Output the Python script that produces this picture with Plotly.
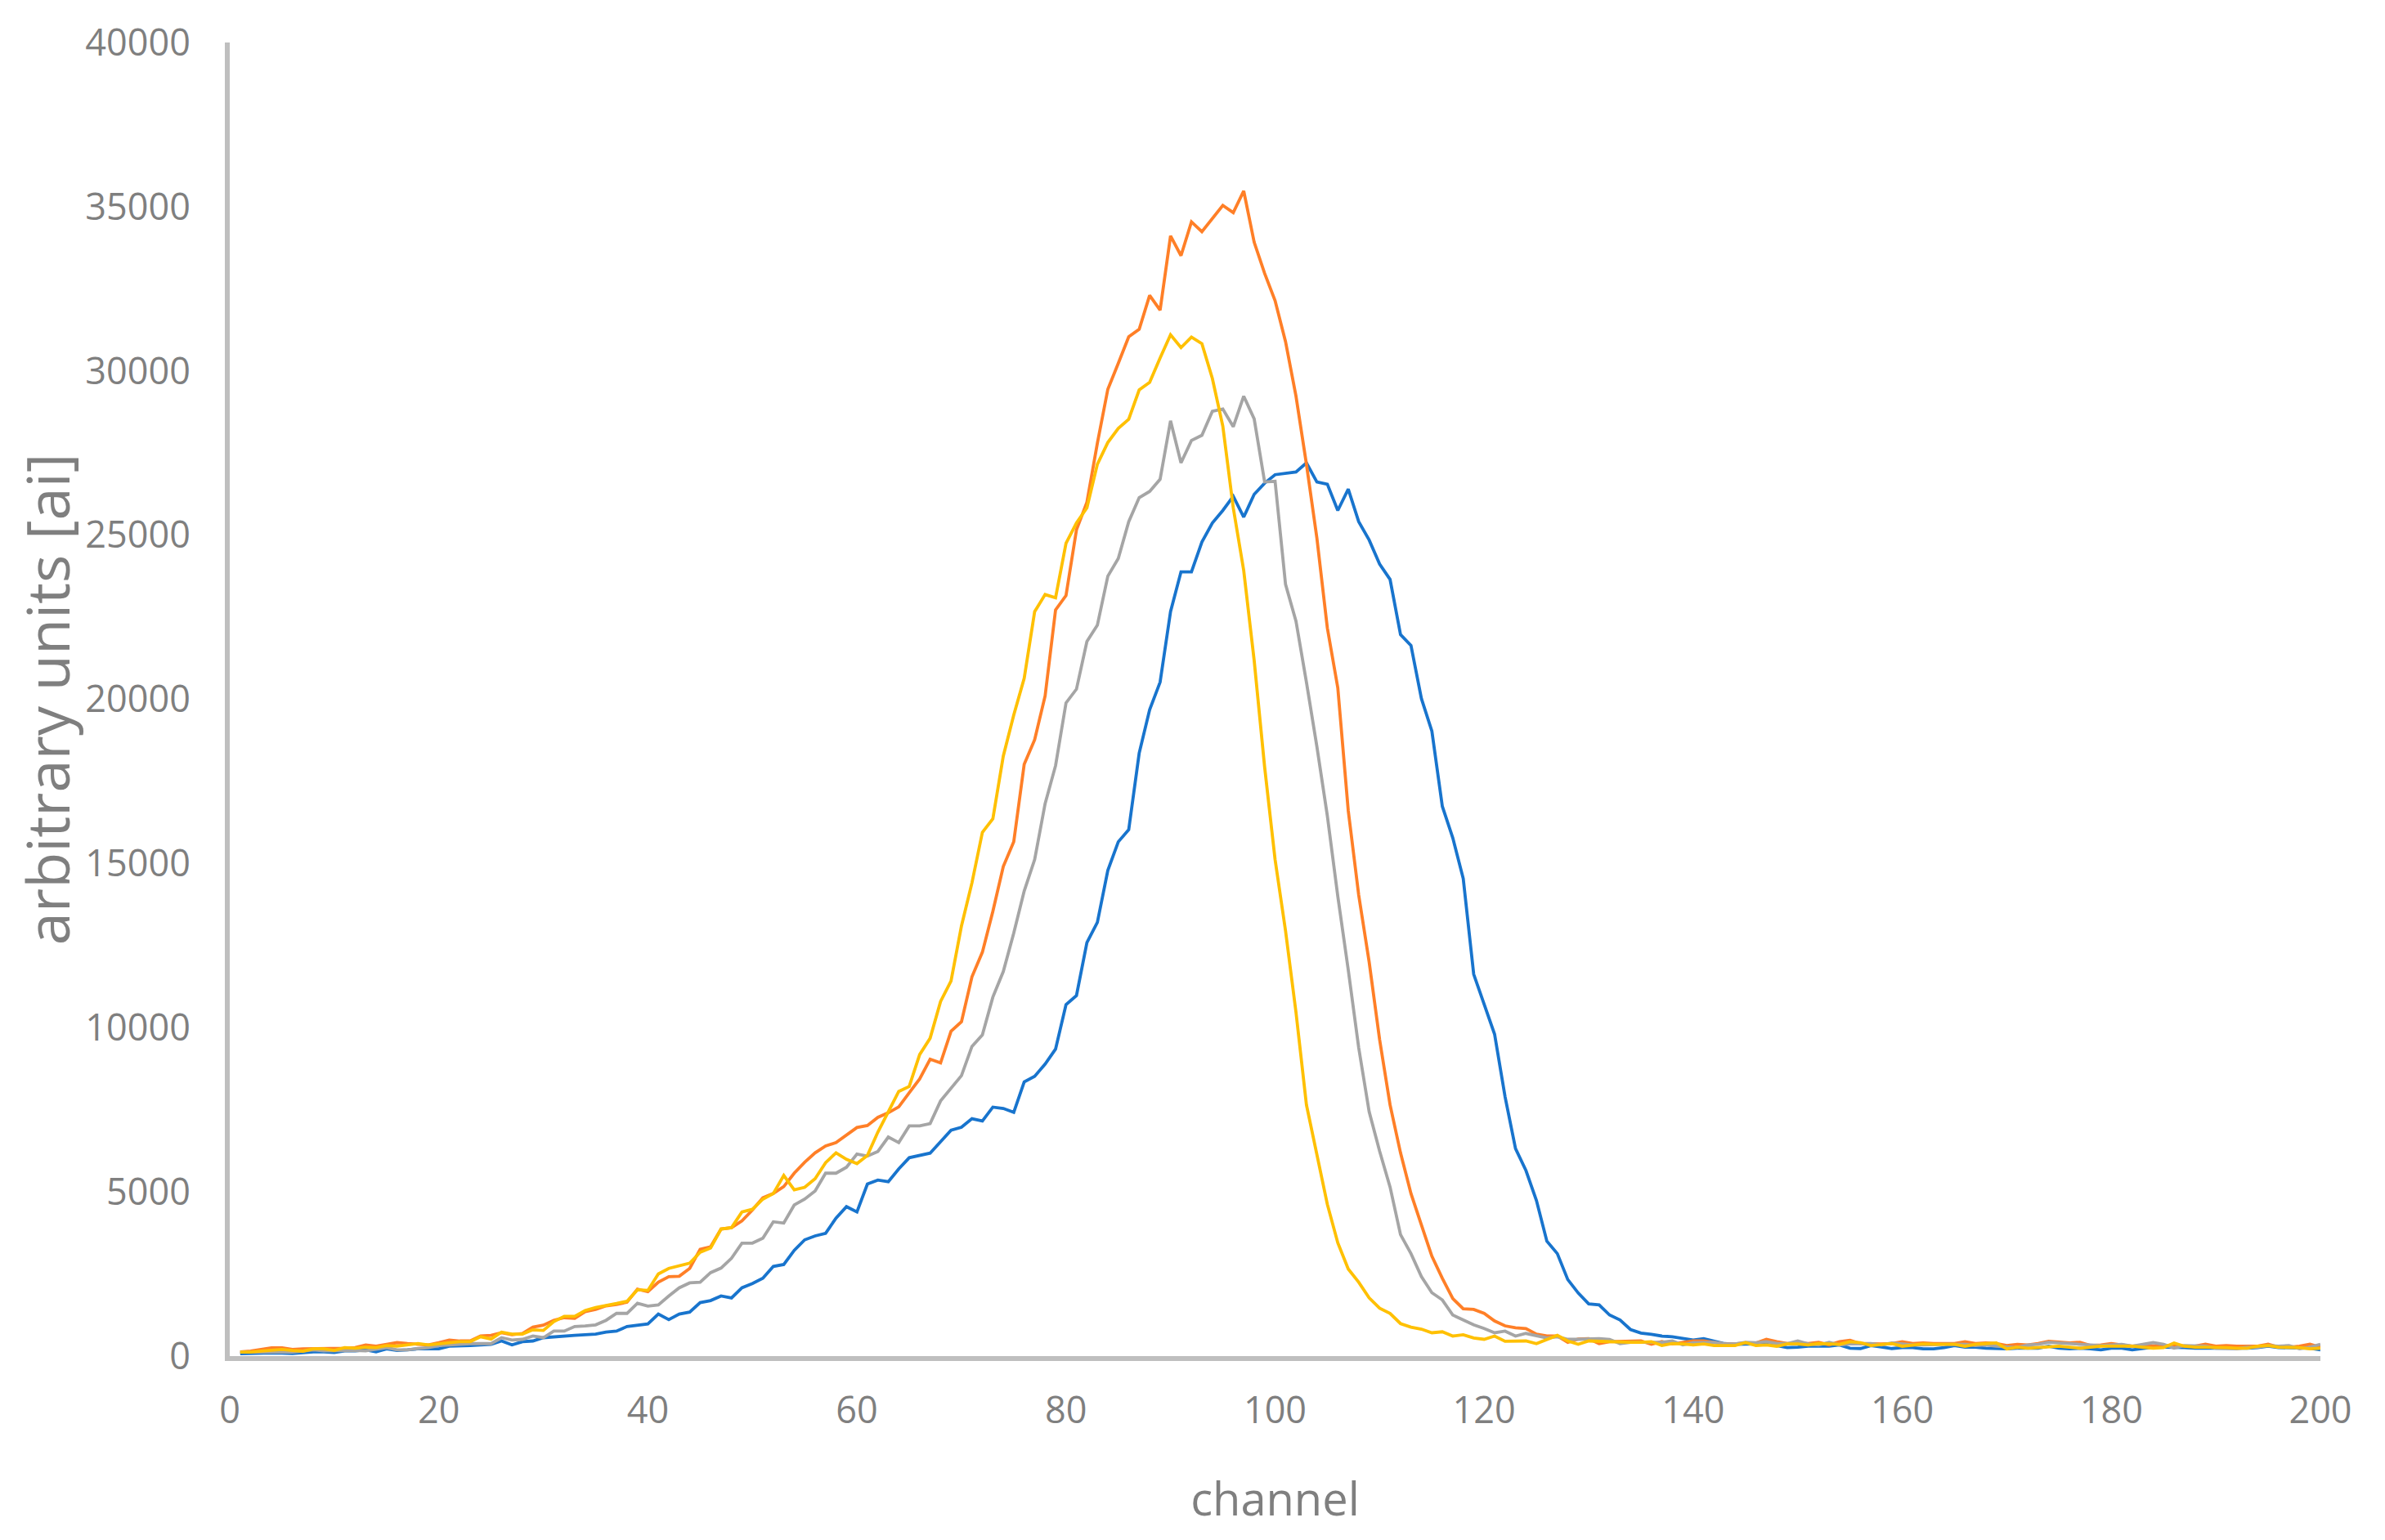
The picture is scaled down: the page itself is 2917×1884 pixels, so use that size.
import plotly.graph_objects as go

# channel numbers along the x axis
CHANNELS = list(range(1, 201))

# intensities, one value per channel
SERIES_BLUE = [
    70, 80, 100, 100, 90, 80, 100, 130, 130, 110,
    160, 160, 190, 130, 220, 170, 190, 220, 220, 220,
    300, 300, 320, 340, 360, 460, 340, 440, 460, 560,
    590, 610, 630, 650, 670, 730, 760, 900, 950, 980,
    1280, 1110, 1280, 1340, 1630, 1690, 1830, 1770, 2080, 2210,
    2370, 2730, 2790, 3220, 3540, 3660, 3740, 4200, 4550, 4390,
    5240, 5360, 5310, 5700, 6040, 6110, 6180, 6530, 6880, 6970,
    7230, 7160, 7580, 7540, 7420, 8350, 8520, 8890, 9350, 10700,
    10980, 12590, 13210, 14790, 15660, 16030, 18360, 19680, 20520, 22670,
    23880, 23880, 24790, 25370, 25750, 26180, 25550, 26240, 26580, 26840,
    26880, 26920, 27200, 26620, 26550, 25750, 26400, 25410, 24850, 24120,
    23650, 21970, 21640, 20020, 19030, 16740, 15780, 14540, 11630, 10680,
    9800, 7900, 6320, 5650, 4740, 3500, 3120, 2330, 1920, 1590,
    1560, 1250, 1100, 810, 700, 660, 610, 590, 550, 490,
    530, 460, 380, 360, 360, 370, 380, 320, 260, 270,
    300, 300, 300, 340, 240, 230, 320, 280, 230, 260,
    260, 220, 220, 260, 320, 270, 270, 240, 220, 220,
    240, 240, 240, 300, 240, 220, 240, 220, 190, 240,
    240, 190, 220, 270, 270, 270, 260, 240, 240, 240,
    220, 240, 240, 260, 300, 260, 260, 240, 240, 190,
]

SERIES_ORANGE = [
    130, 150, 200, 250, 250, 200, 220, 220, 240, 220,
    240, 260, 340, 300, 360, 410, 380, 360, 340, 410,
    490, 460, 460, 610, 630, 710, 650, 690, 880, 940,
    1090, 1170, 1150, 1350, 1420, 1530, 1570, 1640, 2040, 1960,
    2250, 2420, 2430, 2670, 3250, 3330, 3870, 3910, 4120, 4450,
    4820, 4950, 5160, 5570, 5900, 6190, 6400, 6500, 6730, 6960,
    7020, 7270, 7410, 7590, 8020, 8440, 9040, 8930, 9890, 10180,
    11550, 12300, 13540, 14910, 15660, 18020, 18770, 20100, 22720, 23160,
    25160, 26000, 27800, 29440, 30230, 31040, 31270, 32300, 31850, 34110,
    33510, 34540, 34240, 34630, 35040, 34820, 35480, 33920, 32970, 32140,
    30890, 29230, 27160, 24910, 22170, 20350, 16610, 14040, 12000, 9640,
    7650, 6190, 4950, 3990, 3040, 2370, 1750, 1440, 1420, 1300,
    1070, 920, 860, 840, 670, 610, 610, 420, 520, 530,
    380, 440, 450, 460, 460, 360, 440, 370, 420, 460,
    460, 420, 370, 370, 400, 400, 510, 440, 380, 400,
    380, 420, 340, 440, 480, 380, 370, 370, 380, 440,
    380, 400, 380, 370, 380, 440, 380, 400, 380, 320,
    360, 340, 380, 450, 420, 400, 420, 320, 340, 380,
    340, 300, 320, 320, 300, 340, 300, 300, 360, 300,
    320, 300, 300, 300, 360, 270, 270, 300, 360, 270,
]

SERIES_GRAY = [
    120, 120, 120, 130, 120, 120, 150, 190, 160, 170,
    170, 170, 160, 220, 260, 190, 190, 230, 260, 320,
    340, 380, 380, 380, 380, 560, 490, 510, 610, 560,
    760, 760, 900, 920, 950, 1090, 1300, 1300, 1610, 1520,
    1560, 1830, 2080, 2230, 2250, 2540, 2680, 2980, 3440, 3440,
    3590, 4090, 4050, 4600, 4780, 5030, 5570, 5570, 5750, 6150,
    6090, 6230, 6670, 6500, 7010, 7010, 7080, 7770, 8140, 8540,
    9430, 9780, 10930, 11710, 12880, 14160, 15120, 16820, 17980, 19890,
    20310, 21760, 22260, 23750, 24290, 25410, 26140, 26330, 26700, 28480,
    27200, 27880, 28040, 28770, 28840, 28300, 29230, 28540, 26620, 26640,
    23500, 22380, 20520, 18560, 16450, 14000, 11760, 9390, 7440, 6240,
    5150, 3700, 3120, 2420, 1930, 1710, 1250, 1090, 950, 840,
    710, 760, 610, 690, 630, 550, 590, 510, 510, 530,
    530, 510, 380, 420, 420, 410, 420, 460, 340, 410,
    410, 420, 370, 370, 420, 410, 440, 380, 380, 460,
    370, 340, 420, 340, 370, 370, 380, 340, 400, 370,
    340, 340, 360, 360, 360, 360, 320, 340, 300, 270,
    260, 340, 360, 420, 400, 380, 360, 340, 320, 340,
    360, 300, 360, 410, 360, 240, 320, 320, 300, 240,
    220, 220, 270, 270, 320, 300, 320, 220, 270, 360,
]

SERIES_YELLOW = [
    120, 120, 150, 180, 200, 170, 150, 220, 220, 170,
    260, 240, 270, 260, 320, 300, 340, 380, 340, 380,
    410, 440, 440, 590, 520, 730, 670, 670, 800, 780,
    1050, 1210, 1210, 1390, 1480, 1530, 1600, 1670, 2020, 2000,
    2500, 2670, 2750, 2830, 3160, 3290, 3870, 3910, 4390, 4470,
    4780, 4950, 5500, 5060, 5140, 5400, 5890, 6190, 5990, 5860,
    6110, 6820, 7440, 8060, 8210, 9180, 9680, 10800, 11420, 13100,
    14410, 15950, 16360, 18270, 19520, 20640, 22670, 23190, 23090, 24750,
    25370, 25830, 27160, 27820, 28250, 28530, 29420, 29650, 30390, 31100,
    30710, 31030, 30830, 29770, 28320, 25830, 23920, 21180, 17940, 15120,
    12950, 10470, 7650, 6110, 4620, 3450, 2650, 2250, 1770, 1460,
    1300, 990, 880, 820, 710, 740, 610, 650, 550, 510,
    610, 450, 460, 460, 380, 510, 630, 460, 360, 460,
    450, 420, 420, 420, 420, 440, 320, 380, 370, 340,
    370, 320, 320, 320, 410, 320, 340, 300, 370, 370,
    340, 380, 370, 360, 440, 410, 320, 340, 380, 300,
    340, 370, 360, 370, 360, 300, 360, 380, 400, 220,
    270, 240, 260, 270, 300, 270, 240, 270, 300, 300,
    300, 300, 270, 240, 260, 400, 300, 270, 270, 270,
    260, 240, 240, 300, 320, 270, 270, 260, 220, 240,
]

AXIS_GREY = "#BFBFBF"
TEXT_GREY = "#7F7F7F"
FONT = "Open Sans"

fig = go.Figure()
for vals, color in [
    (SERIES_BLUE, "#1874CD"),
    (SERIES_ORANGE, "#FF7F27"),
    (SERIES_GRAY, "#A5A5A5"),
    (SERIES_YELLOW, "#FFC000"),
]:
    fig.add_trace(
        go.Scatter(
            x=CHANNELS,
            y=vals,
            mode="lines",
            line=dict(color=color, width=3.8),
            hoverinfo="x+y",
        )
    )

fig.update_layout(
    width=2917,
    height=1884,
    margin=dict(l=273, r=87, t=41, b=233),
    paper_bgcolor="white",
    plot_bgcolor="white",
    showlegend=False,
    font=dict(family=FONT, color=TEXT_GREY, size=45),
)
fig.update_xaxes(
    range=[0, 200],
    tick0=0,
    dtick=20,
    showgrid=False,
    zeroline=False,
    showline=True,
    linecolor=AXIS_GREY,
    linewidth=6,
    ticks="outside",
    ticklen=22,
    tickcolor="rgba(0,0,0,0)",
    tickfont=dict(family=FONT, size=45, color=TEXT_GREY),
    title=dict(text="channel", font=dict(family=FONT, size=56, color=TEXT_GREY), standoff=64),
)
fig.update_yaxes(
    range=[0, 40000],
    tick0=0,
    dtick=5000,
    tickformat="d",
    showgrid=False,
    zeroline=False,
    showline=True,
    linecolor=AXIS_GREY,
    linewidth=6,
    ticks="outside",
    ticklen=33,
    tickcolor="rgba(0,0,0,0)",
    tickfont=dict(family=FONT, size=45, color=TEXT_GREY),
    title=dict(text="arbitrary units [ai]", font=dict(family=FONT, size=72, color=TEXT_GREY), standoff=0),
)

fig.write_html("out.html")
